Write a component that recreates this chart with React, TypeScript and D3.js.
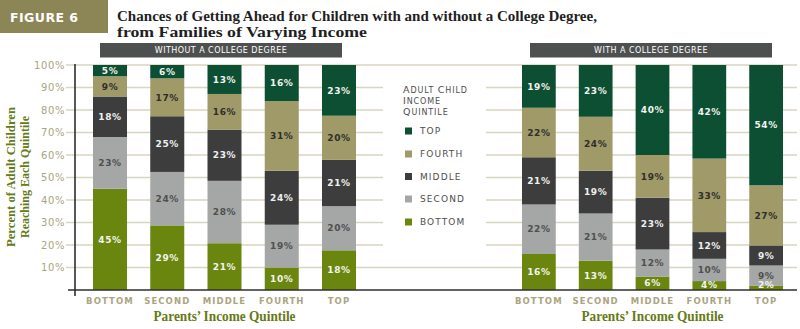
import React from 'react';
import * as d3 from 'd3';

// ---------- data ----------
const parentQuintiles = ['BOTTOM', 'SECOND', 'MIDDLE', 'FOURTH', 'TOP'];
const childKeys = ['bottom', 'second', 'middle', 'fourth', 'top'];
const legendLabels = ['TOP', 'FOURTH', 'MIDDLE', 'SECOND', 'BOTTOM'];

// Without a college degree (by parents' quintile BOTTOM..TOP)
const withoutBottom = [45, 29, 21, 10, 18];
const withoutSecond = [23, 24, 28, 19, 20];
const withoutMiddle = [18, 25, 23, 24, 21];
const withoutFourth = [9, 17, 16, 31, 20];
const withoutTop = [5, 6, 13, 16, 23];

// With a college degree
const withBottom = [16, 13, 6, 4, 2];
const withSecond = [22, 21, 12, 10, 9];
const withMiddle = [21, 19, 23, 12, 9];
const withFourth = [22, 24, 19, 33, 27];
const withTop = [19, 23, 40, 42, 54];

const yTicks = [10, 20, 30, 40, 50, 60, 70, 80, 90, 100];

// ---------- styles ----------
const colors: Record<string, string> = {
  top: '#0c4f33',
  fourth: '#a09a69',
  middle: '#3d3d3d',
  second: '#a5a7a6',
  bottom: '#6a860f',
};
const labelColors: Record<string, string> = {
  top: '#f2f2ee',
  fourth: '#2e2e2a',
  middle: '#f0f0f0',
  second: '#4e4f4f',
  bottom: '#f4f4ee',
};
const SANS = 'DejaVu Sans, Verdana, sans-serif';
const SERIF = 'Liberation Serif, Times New Roman, serif';
const OLIVE = '#667a17';
const KHAKI_TEXT = '#aaa57f';

function buildRows(b: number[], s: number[], m: number[], f: number[], t: number[]) {
  return parentQuintiles.map((p, i) => ({
    parent: p,
    bottom: b[i],
    second: s[i],
    middle: m[i],
    fourth: f[i],
    top: t[i],
  }));
}

const rowsWithout = buildRows(withoutBottom, withoutSecond, withoutMiddle, withoutFourth, withoutTop);
const rowsWith = buildRows(withBottom, withSecond, withMiddle, withFourth, withTop);

const stacker = d3
  .stack<any>()
  .keys(childKeys)
  .offset(d3.stackOffsetExpand);

const y = d3.scaleLinear().domain([0, 1]).range([290, 65]);
const yPct = d3.scaleLinear().domain([0, 100]).range([290, 65]);

const xLeft = d3.scaleBand<string>().domain(parentQuintiles).range([93, 356]).paddingInner(0.406).paddingOuter(0);
const xRight = d3.scaleBand<string>().domain(parentQuintiles).range([522, 783]).paddingInner(0.406).paddingOuter(0);

function Panel({ rows, x, header, hx0, hx1 }: any) {
  const series = stacker(rows);
  const cx = (x.range()[0] + x.range()[1]) / 2;
  return (
    <g>
      <rect x={hx0} y={43} width={hx1 - hx0} height={14.5} fill="#4e5050" />
      <text
        x={(hx0 + hx1) / 2}
        y={53.2}
        textAnchor="middle"
        fill="#ffffff"
        fontFamily={SANS}
        fontSize={8}
        letterSpacing={0.45}
      >
        {header}
      </text>
      {series.map((s: any) => (
        <g key={s.key}>
          {s.map((d: any, i: number) => {
            const p = parentQuintiles[i];
            const y0 = y(d[0]);
            const y1 = y(d[1]);
            return (
              <rect key={p} x={x(p)} y={y1} width={x.bandwidth()} height={y0 - y1} fill={colors[s.key]} />
            );
          })}
        </g>
      ))}
      {series.map((s: any) => (
        <g key={s.key + 'lbl'}>
          {s.map((d: any, i: number) => {
            const p = parentQuintiles[i];
            const y0 = y(d[0]);
            const y1 = y(d[1]);
            let ym = (y0 + y1) / 2;
            if (y0 - y1 < 9) ym = y0 - 5;
            return (
              <text
                key={p}
                x={(x(p) as number) + x.bandwidth() / 2}
                y={ym}
                dy="0.36em"
                textAnchor="middle"
                fill={labelColors[s.key]}
                fontFamily={SANS}
                fontWeight="bold"
                fontSize={9}
                letterSpacing={0.6}
              >
                {rows[i][s.key]}%
              </text>
            );
          })}
        </g>
      ))}
      {parentQuintiles.map((p) => (
        <text
          key={p}
          x={(x(p) as number) + x.bandwidth() / 2}
          y={304}
          textAnchor="middle"
          fill={KHAKI_TEXT}
          fontFamily={SANS}
          fontWeight="bold"
          fontSize={8.5}
          letterSpacing={1.1}
        >
          {p}
        </text>
      ))}
      <text
        x={cx}
        y={321}
        textAnchor="middle"
        fill={OLIVE}
        fontFamily={SERIF}
        fontWeight="bold"
        fontSize={14}
        textLength={142}
        lengthAdjust="spacingAndGlyphs"
      >
        Parents’ Income Quintile
      </text>
    </g>
  );
}

export default function App() {
  const legendY = [131, 154, 176.5, 199, 222];
  const legendKeys = ['top', 'fourth', 'middle', 'second', 'bottom'];
  return (
    <svg
      width={800}
      height={329}
      viewBox="0 0 800 329"
      style={{ position: 'absolute', left: 0, top: 0, background: '#ffffff' }}
    >
      <rect x={0} y={0} width={800} height={329} fill="#ffffff" />
      {/* Figure tag */}
      <rect x={0} y={0} width={108} height={33} fill="#8c8555" />
      <text
        x={10}
        y={21.5}
        fill="#ffffff"
        fontFamily={SANS}
        fontWeight="bold"
        fontSize={12.5}
        textLength={68}
        lengthAdjust="spacing"
      >
        FIGURE 6
      </text>
      {/* Title */}
      <text
        x={117}
        y={21}
        fill="#1f1f1f"
        fontFamily={SERIF}
        fontWeight="bold"
        fontSize={14.5}
        textLength={480}
        lengthAdjust="spacingAndGlyphs"
      >
        Chances of Getting Ahead for Children with and without a College Degree,
      </text>
      <text
        x={117}
        y={36.5}
        fill="#1f1f1f"
        fontFamily={SERIF}
        fontWeight="bold"
        fontSize={14.5}
        textLength={250}
        lengthAdjust="spacingAndGlyphs"
      >
        from Families of Varying Income
      </text>

      {/* Gridlines */}
      {yTicks.map((t) => {
        const yy = yPct(t);
        const gap = t >= 20 && t <= 90;
        return gap ? (
          <g key={t}>
            <line x1={66} x2={383} y1={yy} y2={yy} stroke="#d8d5c2" strokeWidth={1.6} />
            <line x1={486} x2={797} y1={yy} y2={yy} stroke="#d8d5c2" strokeWidth={1.6} />
          </g>
        ) : (
          <line key={t} x1={66} x2={797} y1={yy} y2={yy} stroke="#d8d5c2" strokeWidth={1.6} />
        );
      })}

      {/* Y tick labels */}
      {yTicks.map((t) => (
        <text
          key={t}
          x={65}
          y={yPct(t)}
          dy="0.36em"
          textAnchor="end"
          fill={KHAKI_TEXT}
          fontFamily={SANS}
          fontSize={10}
          letterSpacing={0.6}
        >
          {t}%
        </text>
      ))}

      {/* Y axis title */}
      <g transform="translate(15,177) rotate(-90)">
        <text
          x={0}
          y={0}
          textAnchor="middle"
          fill={OLIVE}
          fontFamily={SERIF}
          fontWeight="bold"
          fontSize={13.5}
          textLength={140}
          lengthAdjust="spacingAndGlyphs"
        >
          Percent of Adult Children
        </text>
        <text
          x={0}
          y={13.5}
          textAnchor="middle"
          fill={OLIVE}
          fontFamily={SERIF}
          fontWeight="bold"
          fontSize={13.5}
          textLength={122}
          lengthAdjust="spacingAndGlyphs"
        >
          Reaching Each Quintile
        </text>
      </g>

      <Panel rows={rowsWithout} x={xLeft} header="WITHOUT A COLLEGE DEGREE" hx0={100} hx1={342} />
      <Panel rows={rowsWith} x={xRight} header="WITH A COLLEGE DEGREE" hx0={530} hx1={772} />

      {/* Axes */}
      <line x1={68} x2={797} y1={290} y2={290} stroke="#2e2e2e" strokeWidth={1.6} />
      <line x1={75} x2={75} y1={64} y2={296} stroke="#2e2e2e" strokeWidth={1.6} />

      {/* Legend */}
      <g fontFamily={SANS} fill="#4e4e4e" letterSpacing={0.9}>
        <text x={403} y={92.5} fontSize={8}>
          <tspan fontSize={9.5}>A</tspan>DULT <tspan fontSize={9.5}>C</tspan>HILD
        </text>
        <text x={403} y={103.5} fontSize={8}>
          <tspan fontSize={9.5}>I</tspan>NCOME
        </text>
        <text x={403} y={114.5} fontSize={8}>
          <tspan fontSize={9.5}>Q</tspan>UINTILE
        </text>
        {legendKeys.map((k, i) => (
          <g key={k}>
            <rect x={405} y={legendY[i] - 3.5} width={7} height={7} fill={colors[k]} />
            <text x={420} y={legendY[i]} dy="0.36em" fontSize={9} letterSpacing={1.1}>
              {legendLabels[i]}
            </text>
          </g>
        ))}
      </g>
    </svg>
  );
}
